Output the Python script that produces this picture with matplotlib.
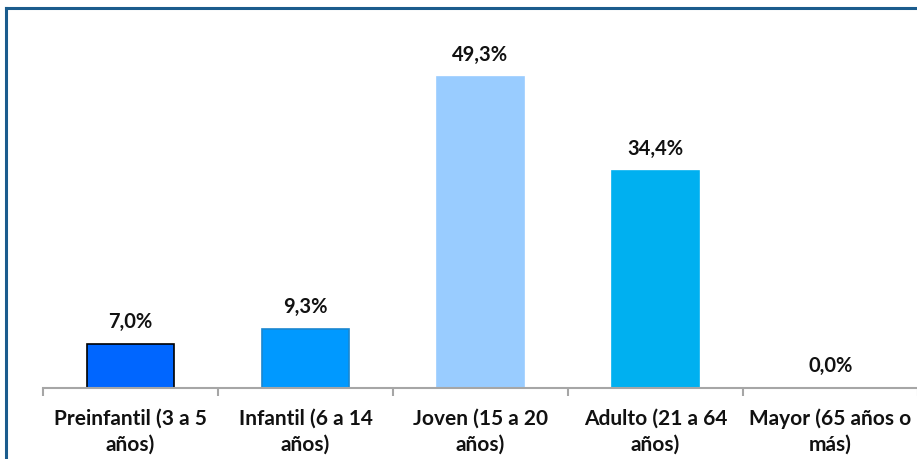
import numpy as np
import matplotlib.pyplot as plt
from matplotlib.lines import Line2D

categorias = ['Preinfantil (3 a 5\naños)', 'Infantil (6 a 14\naños)', 'Joven (15 a 20\naños)',
              'Adulto (21 a 64\naños)', 'Mayor (65 años o\nmás)']
porcentajes = [7.0, 9.3, 49.3, 34.4, 0.0]
colores = ['#0066FF', '#0099FF', '#99CCFF', '#00B0F0', '#00B0F0']
bordes = ['#000000', '#1A86D0', '#99CCFF', '#00B0F0', '#00B0F0']

plt.rcParams['font.family'] = ['Lato', 'DejaVu Sans']

fig = plt.figure(figsize=(9.17, 4.59), dpi=100)
ax = fig.add_axes([43/917, 71/459, 875/917, 379/459])

x = np.arange(len(categorias))
bars = ax.bar(x, porcentajes, width=0.5, color=colores, edgecolor=bordes, linewidth=1.2)

for xi, v in zip(x, porcentajes):
    ax.annotate(f'{v:.1f}%'.replace('.', ','), (xi, v), xytext=(0, 8.5), textcoords='offset points',
                ha='center', va='bottom', fontsize=14.5, fontweight='bold', color='#111111')

ax.set_xlim(-0.5, len(categorias) - 0.5)
ax.set_ylim(0, 60)
ax.set_yticks([])
for s in ['top', 'right', 'left']:
    ax.spines[s].set_visible(False)
ax.spines['bottom'].set_color('#A6A6A6')
ax.spines['bottom'].set_linewidth(1.5)

# tick marks at category boundaries
ax.set_xticks(np.arange(-0.5, len(categorias) + 0.5, 1))
ax.set_xticklabels([])
ax.tick_params(axis='x', direction='out', length=6, width=1.5, color='#A6A6A6')
ax.set_xticks(x, minor=True)
ax.set_xticklabels(categorias, minor=True, fontsize=15, fontweight='bold', color='#111111',
                   linespacing=1.35)
ax.tick_params(axis='x', which='minor', length=0, pad=15)

# frame border of the chart area
fig.add_artist(Line2D([6/917, 6/917], [0, 1 - 8/459], transform=fig.transFigure,
                      color='#1B5C8D', linewidth=2.2))
fig.add_artist(Line2D([6/917, 1], [1 - 8/459, 1 - 8/459], transform=fig.transFigure,
                      color='#1B5C8D', linewidth=2.2))

fig.savefig('out.png', dpi=100)
